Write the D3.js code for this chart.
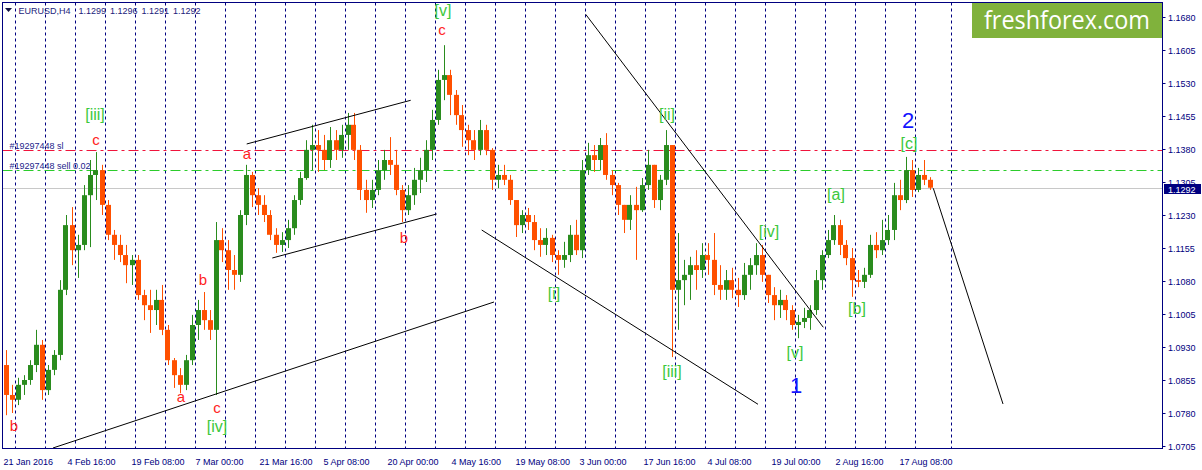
<!DOCTYPE html>
<html><head><meta charset="utf-8">
<script src="https://cdn.jsdelivr.net/npm/d3@7"></script>
<style>html,body{margin:0;padding:0;background:#fff;overflow:hidden}svg{display:block}</style>
</head><body><svg id="chart" width="1202" height="470"></svg>
<script>
// ---- data: EURUSD daily OHLC (21 Jan 2016 .. 19 Aug 2016) ----
const open = [1.0889,1.0821,1.0810,1.0844,1.0855,1.0889,1.0935,1.0832,1.0878,1.0912,
1.1060,1.1207,1.1150,1.1162,1.1275,1.1321,1.1332,1.1253,1.1185,1.1162,
1.1139,1.1116,1.1128,1.1048,1.1025,1.1014,1.1037,1.0969,1.0900,1.0866,
1.0844,1.0900,1.0980,1.1014,1.0991,1.0969,1.1173,1.1150,1.1105,1.1094,
1.1230,1.1321,1.1275,1.1253,1.1230,1.1185,1.1162,1.1173,1.1200,1.1264,
1.1314,1.1378,1.1389,1.1378,1.1355,1.1400,1.1378,1.1412,1.1435,1.1378,
1.1287,1.1264,1.1287,1.1332,1.1355,1.1344,1.1287,1.1241,1.1275,1.1310,
1.1332,1.1378,1.1446,1.1537,1.1548,1.1503,1.1457,1.1423,1.1400,1.1378,
1.1423,1.1378,1.1310,1.1321,1.1310,1.1264,1.1207,1.1230,1.1214,1.1173,
1.1162,1.1178,1.1139,1.1128,1.1139,1.1185,1.1150,1.1332,1.1366,1.1355,
1.1389,1.1321,1.1298,1.1253,1.1219,1.1253,1.1241,1.1298,1.1344,1.1264,
1.1310,1.1389,1.1060,1.1082,1.1094,1.1116,1.1105,1.1139,1.1128,1.1071,
1.1060,1.1082,1.1060,1.1048,1.1094,1.1116,1.1139,1.1094,1.1048,1.1025,
1.1037,1.1014,1.0980,1.0987,1.0996,1.1014,1.1082,1.1139,1.1173,1.1207,
1.1162,1.1132,1.1082,1.1078,1.1094,1.1162,1.1150,1.1173,1.1196,1.1275,
1.1264,1.1332,1.1287,1.1321,1.1310];
const high = [1.0923,1.0844,1.0860,1.0866,1.0900,1.0969,1.0946,1.0889,1.0923,1.1082,
1.1230,1.1248,1.1185,1.1298,1.1355,1.1373,1.1344,1.1264,1.1196,1.1185,
1.1162,1.1139,1.1139,1.1060,1.1060,1.1060,1.1071,1.0980,1.0905,1.0882,
1.0912,1.1003,1.1037,1.1055,1.1014,1.1214,1.1200,1.1173,1.1139,1.1241,
1.1344,1.1328,1.1291,1.1275,1.1241,1.1200,1.1191,1.1219,1.1275,1.1328,
1.1400,1.1435,1.1423,1.1412,1.1430,1.1423,1.1435,1.1462,1.1462,1.1389,
1.1310,1.1310,1.1355,1.1378,1.1407,1.1378,1.1298,1.1298,1.1337,1.1360,
1.1400,1.1469,1.1560,1.1616,1.1560,1.1514,1.1480,1.1435,1.1423,1.1446,
1.1435,1.1382,1.1344,1.1344,1.1321,1.1264,1.1241,1.1246,1.1230,1.1200,
1.1200,1.1185,1.1150,1.1169,1.1207,1.1219,1.1355,1.1394,1.1389,1.1405,
1.1416,1.1332,1.1303,1.1253,1.1275,1.1294,1.1314,1.1378,1.1344,1.1321,
1.1423,1.1389,1.1189,1.1128,1.1135,1.1150,1.1166,1.1166,1.1189,1.1116,
1.1105,1.1110,1.1087,1.1121,1.1132,1.1166,1.1162,1.1094,1.1066,1.1060,
1.1048,1.1025,1.1003,1.1019,1.1025,1.1105,1.1150,1.1196,1.1230,1.1219,
1.1173,1.1155,1.1105,1.1110,1.1185,1.1191,1.1219,1.1230,1.1303,1.1310,
1.1362,1.1355,1.1337,1.1355,1.1316];
const low = [1.0775,1.0780,1.0798,1.0821,1.0844,1.0873,1.0810,1.0821,1.0866,1.0900,
1.1048,1.1116,1.1087,1.1150,1.1157,1.1264,1.1230,1.1173,1.1128,1.1123,
1.1075,1.1071,1.1037,1.0991,1.0962,1.0980,1.0957,1.0889,1.0837,1.0825,
1.0832,1.0889,1.0946,1.0969,1.0946,1.0821,1.1123,1.1060,1.1060,1.1078,
1.1207,1.1248,1.1230,1.1214,1.1173,1.1144,1.1146,1.1155,1.1185,1.1253,
1.1310,1.1332,1.1328,1.1332,1.1337,1.1355,1.1360,1.1378,1.1355,1.1264,
1.1235,1.1246,1.1275,1.1310,1.1321,1.1275,1.1214,1.1230,1.1253,1.1280,
1.1305,1.1355,1.1435,1.1491,1.1457,1.1435,1.1385,1.1366,1.1355,1.1366,
1.1366,1.1287,1.1291,1.1298,1.1253,1.1180,1.1189,1.1196,1.1150,1.1135,
1.1139,1.1123,1.1094,1.1110,1.1123,1.1139,1.1132,1.1321,1.1328,1.1332,
1.1310,1.1275,1.1230,1.1189,1.1196,1.1128,1.1237,1.1287,1.1246,1.1241,
1.1298,1.0907,1.0969,1.1025,1.1037,1.1060,1.1087,1.1094,1.1048,1.1037,
1.1037,1.1041,1.1021,1.1037,1.1060,1.1094,1.1078,1.1030,1.0991,1.0996,
1.0991,1.0969,1.0950,1.0973,1.0969,1.1003,1.1060,1.1132,1.1162,1.1139,
1.1116,1.1044,1.1066,1.1064,1.1087,1.1132,1.1139,1.1162,1.1173,1.1241,
1.1257,1.1271,1.1282,1.1298,1.1287];
const close = [1.0821,1.0810,1.0844,1.0855,1.0889,1.0935,1.0832,1.0878,1.0912,1.1060,
1.1207,1.1150,1.1162,1.1275,1.1321,1.1332,1.1253,1.1185,1.1162,1.1139,
1.1116,1.1128,1.1048,1.1025,1.1014,1.1037,1.0969,1.0900,1.0866,1.0844,
1.0900,1.0980,1.1014,1.0991,1.0969,1.1173,1.1150,1.1105,1.1094,1.1230,
1.1321,1.1275,1.1253,1.1230,1.1185,1.1162,1.1173,1.1200,1.1264,1.1314,
1.1378,1.1389,1.1378,1.1355,1.1400,1.1378,1.1412,1.1435,1.1378,1.1287,
1.1264,1.1287,1.1332,1.1355,1.1344,1.1287,1.1241,1.1275,1.1310,1.1332,
1.1378,1.1446,1.1537,1.1548,1.1503,1.1457,1.1423,1.1400,1.1378,1.1423,
1.1378,1.1310,1.1321,1.1310,1.1264,1.1207,1.1230,1.1214,1.1173,1.1162,
1.1178,1.1139,1.1128,1.1139,1.1185,1.1150,1.1332,1.1366,1.1355,1.1389,
1.1321,1.1298,1.1253,1.1219,1.1253,1.1241,1.1298,1.1344,1.1264,1.1310,
1.1389,1.1060,1.1082,1.1094,1.1116,1.1105,1.1139,1.1128,1.1071,1.1060,
1.1082,1.1060,1.1048,1.1094,1.1116,1.1139,1.1094,1.1048,1.1025,1.1037,
1.1014,1.0980,1.0987,1.0996,1.1014,1.1082,1.1139,1.1173,1.1207,1.1162,
1.1132,1.1082,1.1078,1.1094,1.1162,1.1150,1.1173,1.1196,1.1275,1.1264,
1.1332,1.1287,1.1321,1.1310,1.1292];

const h4PerDay = 6;                 // each daily entry spans six H4 bars
const xTickLabels = ["21 Jan 2016","4 Feb 16:00","19 Feb 08:00","7 Mar 00:00","21 Mar 16:00","5 Apr 08:00","20 Apr 00:00","4 May 16:00","19 May 08:00","3 Jun 00:00","17 Jun 16:00","4 Jul 08:00","19 Jul 00:00","2 Aug 16:00","17 Aug 08:00"];
const xTickBars = [0,64,128,192,256,320,384,448,512,576,640,704,768,832,896];
const yTickLabels = ["1.0705","1.0780","1.0855","1.0930","1.1005","1.1080","1.1155","1.1230","1.1305","1.1380","1.1455","1.1530","1.1605","1.1680"];
const separatorBars = [12,42,72,102,132,162,192,222,252,282,312,342,372,402,432,462,492,522,552,582,612,642,672,702,732,762,792,822,852,882,912,948];
const bidPrice = 1.1292;
const headerText = "EURUSD,H4  1.1299 1.1296 1.1291 1.1292";
const orderLevels = [
  {price: 1.1378, label: "#19297448 sl", color: "#f0143c"},
  {price: 1.1332, label: "#19297448 sell 0.02", color: "#2ccc2c"}
];
// trend lines: [H4 bar, price] endpoints
const trendLines = [
  [[50, 1.07005], [491, 1.10323]],
  [[243.7, 1.13914], [407.7, 1.14907]],
  [[269.3, 1.11323], [433.7, 1.12323]],
  [[582.7, 1.16861], [820.3, 1.09748]],
  [[478.7, 1.11959], [755, 1.07998]],
  [[930.3, 1.12907], [1000, 1.08005]]
];
// wave labels: text, H4 bar, price, kind
const waveLabels = [
  ["b",11,1.07527,"minor"],["[iii]",92,1.14595,"minute"],["c",93,1.14027,"minor"],
  ["a",178,1.08164,"minor"],["b",200,1.10845,"minor"],["c",214,1.07914,"minor"],["[iv]",214,1.07482,"minute"],
  ["a",244,1.13709,"minor"],["b",401,1.1180,"minor"],["c",439,1.16527,"minor"],["[v]",440,1.16959,"minute"],
  ["[i]",551,1.10527,"minute"],["[ii]",664,1.14573,"minute"],["[iii]",669,1.08732,"minute"],
  ["[iv]",766,1.11936,"minute"],["[v]",792,1.09164,"minute"],["1",793,1.08436,"major"],
  ["[a]",833,1.12777,"minute"],["[b]",854,1.10186,"minute"],["[c]",906,1.13914,"minute"],["2",905,1.14459,"major"]
];

// ---- layout ----
const svg = d3.select("#chart");
const plot = {left: 2.5, top: 2.5, right: 1162.5, bottom: 448.5};
const x = d3.scaleLinear().domain([0, 1159]).range([3, 1162]);
const y = d3.scaleLinear().domain([1.0705, 1.1680]).range([446, 17]);
const navy = "#000080";
const font = "'Liberation Sans', Arial, sans-serif";

svg.append("defs").append("clipPath").attr("id","clip")
  .append("rect").attr("x",plot.left).attr("y",plot.top)
  .attr("width",plot.right-plot.left).attr("height",plot.bottom-plot.top);

// logo
const logo = svg.append("g");
logo.append("rect").attr("x",972).attr("y",3).attr("width",190).attr("height",35).attr("fill","#80b23c");
logo.append("text").attr("x",984).attr("y",29).attr("fill","#fff")
  .attr("font-family","'Open Sans', sans-serif").attr("font-size",25)
  .attr("textLength",166).attr("lengthAdjust","spacingAndGlyphs").text("freshforex.com");

const g = svg.append("g").attr("clip-path","url(#clip)");

// period separators
g.selectAll("line.sep").data(separatorBars).join("line")
  .attr("x1",d=>Math.round(x(d))+0.5).attr("x2",d=>Math.round(x(d))+0.5)
  .attr("y1",plot.top).attr("y2",plot.bottom)
  .attr("stroke",navy).attr("stroke-width",1).attr("stroke-dasharray","3,3");

// bid line
g.append("line").attr("x1",plot.left).attr("x2",plot.right)
  .attr("y1",Math.round(y(bidPrice))+0.5).attr("y2",Math.round(y(bidPrice))+0.5)
  .attr("stroke","#c8c8c8");

// order levels
orderLevels.forEach(L=>{
  const yy = Math.round(y(L.price))+0.5;
  g.append("line").attr("x1",plot.left).attr("x2",plot.right).attr("y1",yy).attr("y2",yy)
    .attr("stroke",L.color).attr("stroke-width",1).attr("stroke-dasharray","10,4,3,4");
  svg.append("text").attr("x",9.5).attr("y",yy-2).attr("fill","#23238c")
    .attr("font-family",font).attr("font-size",9).text(L.label);
});

// candles
const days = d3.range(close.length);
const up = "#2a8c1e", down = "#ff5000";
const cg = g.append("g");
cg.selectAll("line.wick").data(days).join("line")
  .attr("x1",i=>Math.round(x(i*h4PerDay+3))+0.5).attr("x2",i=>Math.round(x(i*h4PerDay+3))+0.5)
  .attr("y1",i=>y(high[i])).attr("y2",i=>y(low[i]))
  .attr("stroke",i=>close[i]>=open[i]?up:down).attr("stroke-width",1);
cg.selectAll("rect.body").data(days).join("rect")
  .attr("x",i=>Math.round(x(i*h4PerDay+0.5)))
  .attr("width",5)
  .attr("y",i=>y(Math.max(open[i],close[i])))
  .attr("height",i=>Math.max(1,Math.abs(y(open[i])-y(close[i]))))
  .attr("fill",i=>close[i]>=open[i]?up:down);

// trend lines
g.selectAll("line.trend").data(trendLines).join("line")
  .attr("x1",d=>x(d[0][0])).attr("y1",d=>y(d[0][1]))
  .attr("x2",d=>x(d[1][0])).attr("y2",d=>y(d[1][1]))
  .attr("stroke","#000").attr("stroke-width",1);

// wave labels
const styles = {
  minor: {fill:"#ff1e1e", size:15},
  minute:{fill:"#3cc83c", size:16},
  major: {fill:"#1414ff", size:22}
};
svg.selectAll("text.wave").data(waveLabels).join("text")
  .attr("x",d=>x(d[1])).attr("y",d=>y(d[2]))
  .attr("text-anchor","middle").attr("dominant-baseline","central")
  .attr("font-family",font)
  .attr("font-size",d=>styles[d[3]].size)
  .attr("fill",d=>styles[d[3]].fill)
  .text(d=>d[0]);

// header
svg.append("path").attr("d","M5,8 L12,8 L8.5,12 Z").attr("fill","#101040");
svg.append("text").attr("x",18.5).attr("y",14).attr("fill","#1c1c7c")
  .attr("font-family",font).attr("font-size",9).attr("word-spacing",1.5)
  .attr("xml:space","preserve").text(headerText);

// frame
svg.append("rect").attr("x",plot.left).attr("y",plot.top)
  .attr("width",plot.right-plot.left).attr("height",plot.bottom-plot.top)
  .attr("fill","none").attr("stroke",navy);

// y axis
const yAxis = svg.append("g");
yTickLabels.forEach(t=>{
  const yy = Math.round(y(+t))+0.5;
  yAxis.append("line").attr("x1",plot.right).attr("x2",plot.right+3).attr("y1",yy).attr("y2",yy).attr("stroke",navy);
  yAxis.append("text").attr("x",1168).attr("y",yy+3.5).attr("fill",navy)
    .attr("font-family",font).attr("font-size",9).text(t);
});
// bid price box
const by = Math.round(y(bidPrice));
svg.append("rect").attr("x",1164).attr("y",by-4).attr("width",37).attr("height",10).attr("fill",navy);
svg.append("text").attr("x",1168).attr("y",by+4.5).attr("fill","#fff")
  .attr("font-family",font).attr("font-size",9).text(bidPrice.toFixed(4));

// x axis labels
svg.selectAll("text.xl").data(xTickLabels).join("text")
  .attr("x",(d,i)=>x(xTickBars[i])+0.5).attr("y",464.5).attr("fill",navy)
  .attr("font-family",font).attr("font-size",9).text(d=>d);
</script></body></html>
